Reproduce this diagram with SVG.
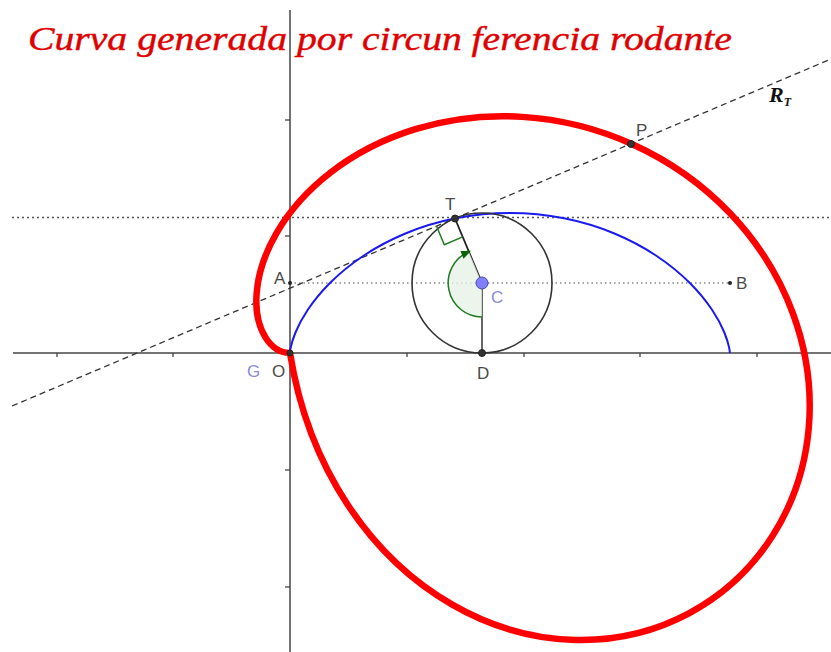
<svg xmlns="http://www.w3.org/2000/svg" width="831" height="652" viewBox="0 0 831 652">
<style>
.axis{stroke:#444;stroke-width:1.5;fill:none}
.tick{stroke:#444;stroke-width:1.3}
.lbl{font-family:"Liberation Sans",Arial,sans-serif;font-size:17px;fill:#4a4a4a}
.lblb{font-family:"Liberation Sans",Arial,sans-serif;font-size:17px;fill:#8a8ad6}
.pt{fill:#333;stroke:#222;stroke-width:1}
.title{font-family:"Liberation Serif","DejaVu Serif",serif;font-style:italic;font-size:33px;fill:#e00000;stroke:#e00000;stroke-width:0.4}
.rt{font-family:"Liberation Serif","DejaVu Serif",serif;font-style:italic;font-weight:bold;font-size:22px;fill:#111}
</style>
<rect width="831" height="652" fill="#fff"/>
<g id="axes">
<line class="axis" x1="290" y1="10" x2="290" y2="652"/>
<line class="axis" x1="13" y1="353" x2="831" y2="353"/>
<g class="tick">
<line x1="57" y1="353" x2="57" y2="357"/><line x1="173" y1="353" x2="173" y2="357"/>
<line x1="407" y1="353" x2="407" y2="357"/><line x1="524" y1="353" x2="524" y2="357"/>
<line x1="640" y1="353" x2="640" y2="357"/><line x1="757" y1="353" x2="757" y2="357"/>
<line x1="285" y1="120" x2="290" y2="120"/><line x1="285" y1="236" x2="290" y2="236"/>
<line x1="285" y1="470" x2="290" y2="470"/><line x1="285" y1="587" x2="290" y2="587"/>
</g>
</g>
<g id="title">
<text class="title" x="28" y="50" textLength="704" lengthAdjust="spacingAndGlyphs">Curva generada por circun<tspan dx="8">ferencia rodante</tspan></text>
</g>
<g id="connectors">
<line x1="12" y1="217.5" x2="831" y2="217.5" stroke="#555" stroke-width="1.5" stroke-dasharray="2,3"/>
<line x1="290" y1="283" x2="730" y2="283" stroke="#888" stroke-width="1.3" stroke-dasharray="1.5,3"/>
<line id="RT-line" x1="12" y1="406" x2="831" y2="59" stroke="#333" stroke-width="1.3" stroke-dasharray="6,4"/>
<line x1="482" y1="283" x2="482" y2="353" stroke="#333" stroke-width="1.5"/>
<line x1="482" y1="283" x2="455" y2="218.5" stroke="#222" stroke-width="1.8"/>
</g>
<g id="cycloid">
<path fill="none" stroke="#1a1aee" stroke-width="2" d="M290,353 C290,351.2 290.004,351.179 290.701,347.672 C291.399,344.166 292.796,338.977 295.480,332.498 C298.164,326.019 302.139,318.254 307.795,309.788 C313.452,301.323 320.793,292.163 329.956,283 C339.119,273.837 350.104,264.678 362.773,256.212 C375.442,247.747 389.794,239.981 405.436,233.502 C421.078,227.023 438.006,221.835 455.635,218.328 C473.264,214.822 491.585,213 509.911,213 C528.237,213 546.559,214.822 564.188,218.328 C581.817,221.835 598.745,227.023 614.387,233.502 C630.029,239.981 644.381,247.747 657.050,256.212 C669.719,264.678 680.704,273.837 689.867,283 C699.030,292.163 706.371,301.323 712.028,309.788 C717.684,318.254 721.659,326.019 724.343,332.498 C727.027,338.977 728.424,344.166 729.122,347.672 C729.819,351.179 729.823,351.2 729.823,353"/>
</g>
<g id="rolling-circle">
<circle cx="482" cy="283" r="70" fill="none" stroke="#333" stroke-width="1.6"/>
</g>
<g id="angle">
<path d="M482,283 L482,317 A34,34 0 0 1 468.9,251.7 Z" fill="#e6f3e6" fill-opacity="0.8" stroke="none"/>
<path d="M482,317 A34,34 0 0 1 468.9,251.7" fill="none" stroke="#1f7a1f" stroke-width="1.5"/>
<polygon points="471,250.8 460.5,251 463.5,258.8" fill="#0a640a"/>
<polyline points="436.6,226.3 444.3,244.7 462.7,236.9" fill="none" stroke="#1f7a1f" stroke-width="1.5"/>
</g>
<g id="red-curve">
<path fill="none" stroke="#ff0000" stroke-width="6.5" stroke-linejoin="round" d="M290,353 C280.837,353 271.696,347.489 265.305,337.152 C258.914,326.815 255.312,311.669 256.605,293.622 C257.898,275.575 264.114,254.660 276.237,233.598 C288.360,212.536 306.400,191.370 329.956,173.044 C353.512,154.718 382.572,139.276 415.370,129.230 C448.168,119.184 484.675,114.567 522.063,116.875 C559.451,119.183 597.677,128.434 633.410,144.692 C669.143,160.950 702.334,184.214 729.823,213 C757.312,241.786 779.055,276.072 792.756,313.004 C806.457,349.936 812.088,389.478 808.765,427.880 C805.442,466.282 793.156,503.495 772.764,535.573 C752.372,567.651 723.883,594.541 689.867,612.867 C655.851,631.193 616.342,640.912 575.275,639.942 C534.208,638.972 491.632,627.289 452.215,604.626 C412.798,581.963 376.597,548.317 348.174,505.464 C319.751,462.611 299.163,410.573 290,353"/>
</g>
<g id="point-O"><circle class="pt" cx="290" cy="353" r="3"/><text class="lbl" x="272" y="377">O</text><text class="lblb" x="247" y="377">G</text></g>
<g id="point-T"><circle class="pt" cx="455" cy="218.5" r="3.5"/><text class="lbl" x="445" y="210">T</text></g>
<g id="point-C"><circle cx="482" cy="283" r="6" fill="#8080ff" stroke="#4a4aa8" stroke-width="1"/><text class="lblb" x="491" y="303">C</text></g>
<g id="point-D"><circle class="pt" cx="482" cy="353" r="3.5"/><text class="lbl" x="477" y="379">D</text></g>
<g id="point-P"><circle class="pt" cx="631" cy="144" r="3.5"/><text class="lbl" x="636" y="136">P</text></g>
<g id="point-A"><circle cx="290" cy="283" r="2" fill="#222"/><text class="lbl" x="274" y="284">A</text></g>
<g id="point-B"><circle cx="730" cy="283" r="2" fill="#222"/><text class="lbl" x="736" y="289">B</text></g>
<g id="label-RT"><text class="rt" x="769" y="102">R<tspan font-size="12" dy="4">T</tspan></text></g>
</svg>
